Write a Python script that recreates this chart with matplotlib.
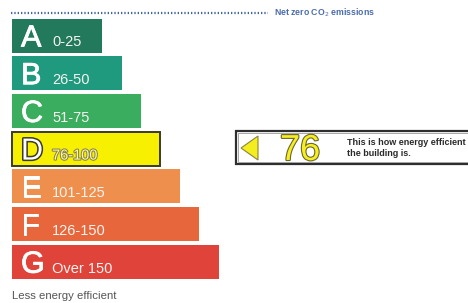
import matplotlib.pyplot as plt
import matplotlib.patheffects as pe
from matplotlib.patches import Rectangle, Polygon

# energy bands, top (most efficient) to bottom
band_letters = ["A", "B", "C", "D", "E", "F", "G"]
band_ranges = ["0-25", "26-50", "51-75", "76-100", "101-125", "126-150", "Over 150"]
band_lengths = [90, 110, 129, 148, 168, 187, 207]
band_colors = ["#23795b", "#1f9a7f", "#3bad5e", "#f7f000", "#ef8f4d", "#e8663b", "#df433a"]

rating = 76
rating_band = "D"

plt.rcParams["font.family"] = ["Liberation Sans", "DejaVu Sans"]

fig = plt.figure(figsize=(4.68, 3.03), dpi=100)
ax = fig.add_axes([0, 0, 1, 1])
ax.set_xlim(0, 468)
ax.set_ylim(303, 0)
ax.axis("off")

# bars, pixel layout
x0 = 12
bar_h = 34
y_top = 18.5
step = 37.7
ys = [y_top + bar_h / 2 + i * step for i in range(len(band_letters))]

for y, letter, rng, length, col in zip(ys, band_letters, band_ranges, band_lengths, band_colors):
    current = letter == rating_band
    ax.barh(y, length, left=x0, height=bar_h, color=col,
            edgecolor="#3a3a2a" if current else "none", linewidth=1.4 if current else 0)
    base = y + bar_h / 2 - 6
    if current:
        fx = [pe.withStroke(linewidth=2.2, foreground="#3a3a30")]
        ax.text(21, base, letter, fontsize=22, color="white", va="baseline", ha="left", path_effects=fx)
        ax.text(52, base, rng, fontsize=10.5, color="#fbf6a8", va="baseline", ha="left",
                path_effects=[pe.withStroke(linewidth=1.5, foreground="#8a8450")])
    else:
        ax.text(21, base, letter, fontsize=22, color="white", va="baseline", ha="left",
                path_effects=[pe.withStroke(linewidth=0.6, foreground="white")])
        ax.text(52, base, rng, fontsize=10.5, color="#f4f4f0", va="baseline", ha="left")

# dotted line and net zero label
ax.plot([11, 268], [13, 13], color="#4465a5", linestyle=(0, (0.6, 0.9)), linewidth=1.6)
ax.text(274, 13, "Net zero CO$_2$ emissions", fontsize=6.3, fontweight="bold",
        color="#4a6cab", va="center", ha="left")

# rating indicator box
ax.add_patch(Rectangle((235.5, 130.5), 240, 33.5, facecolor="white", edgecolor="#2e2e2e", linewidth=1.6))
ax.add_patch(Rectangle((238, 133), 240, 28.5, facecolor="none", edgecolor="#9a9a9a", linewidth=0.6))
ax.add_patch(Polygon([(241, 148), (258, 136), (258, 160)], closed=True,
                     facecolor="#f5ee1e", edgecolor="#8a8440", linewidth=0.8))
ax.text(280, 160, str(rating), fontsize=26, color="#f6ee20", va="baseline", ha="left",
        path_effects=[pe.withStroke(linewidth=1.6, foreground="#6a6630")])
ax.text(347, 148, "This is how energy efficient\nthe building is.", fontsize=6.5,
        fontweight="bold", color="#2a2a2a", va="center", ha="left", linespacing=1.3)

ax.text(12, 296, "Less energy efficient", fontsize=8.2, color="#555555", va="center", ha="left")

fig.savefig("out.png", dpi=100)
